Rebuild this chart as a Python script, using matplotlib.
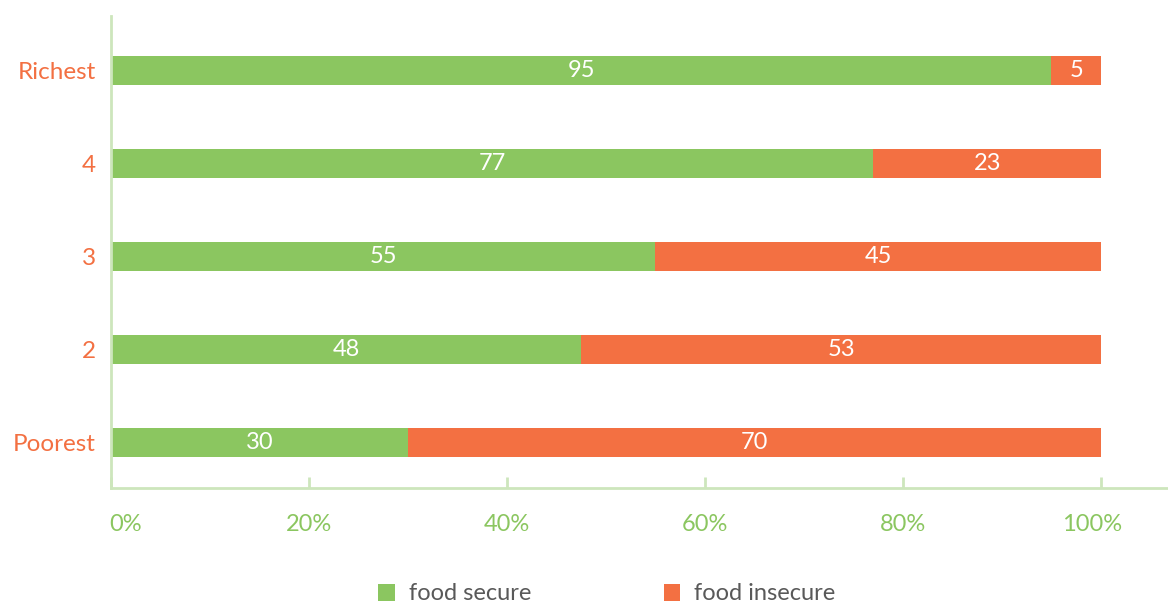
import numpy as np
import matplotlib.pyplot as plt
import matplotlib.transforms as mtransforms
from matplotlib.ticker import PercentFormatter

plt.rcParams['font.family'] = ['Lato', 'DejaVu Sans']

# food security by wealth group (bottom to top)
groups = ['Poorest', '2', '3', '4', 'Richest']
food_secure = [30, 48, 55, 77, 95]
food_insecure = [70, 53, 45, 23, 5]

green = '#8BC660'
orange = '#F37042'
axis_col = '#CDE6BC'

secure = np.array(food_secure, dtype=float)
insecure = np.array(food_insecure, dtype=float)
total = secure + insecure
sec_share = secure / total
insec_share = insecure / total

fig = plt.figure(figsize=(11.68, 6.04), dpi=100)
ax = fig.add_axes([111 / 1168, 116 / 604, 1 - 111 / 1168, 472 / 604])

y = np.arange(len(groups))
b1 = ax.barh(y, sec_share, height=0.31, color=green, label='food secure')
b2 = ax.barh(y, insec_share, left=sec_share, height=0.31, color=orange, label='food insecure')

ax.bar_label(b1, labels=[str(v) for v in food_secure], label_type='center',
             color='white', fontsize=17)
ax.bar_label(b2, labels=[str(v) for v in food_insecure], label_type='center',
             color='white', fontsize=17)

ax.set_xlim(0, 1.0677)
ax.set_ylim(-0.49, 4.59)
ax.set_xticks(np.arange(0, 1.01, 0.2))
ax.xaxis.set_major_formatter(PercentFormatter(1.0, decimals=0))
ax.set_yticks(y)
ax.set_yticklabels(groups)

for s in ['top', 'right']:
    ax.spines[s].set_visible(False)
for s in ['left', 'bottom']:
    ax.spines[s].set_color(axis_col)
    ax.spines[s].set_linewidth(2)

ax.tick_params(axis='x', direction='in', length=8, width=2, color=axis_col,
               labelcolor=green, labelsize=17, pad=19)
ax.tick_params(axis='y', length=0, labelcolor=orange, labelsize=17.5, pad=11)

# nudge the end labels inward
xlabels = ax.get_xticklabels()
xlabels[0].set_transform(xlabels[0].get_transform() +
                         mtransforms.ScaledTranslation(0.15, 0, fig.dpi_scale_trans))
xlabels[-1].set_transform(xlabels[-1].get_transform() +
                          mtransforms.ScaledTranslation(-0.09, 0, fig.dpi_scale_trans))

fig.legend(handles=[b1, b2], loc='center', bbox_to_anchor=(607 / 1168, 10 / 604),
           ncol=2, frameon=False, fontsize=17, handlelength=0.7, handleheight=0.7,
           handletextpad=0.6, columnspacing=5.6, labelcolor='#595959')

fig.savefig('out.png', dpi=100)
